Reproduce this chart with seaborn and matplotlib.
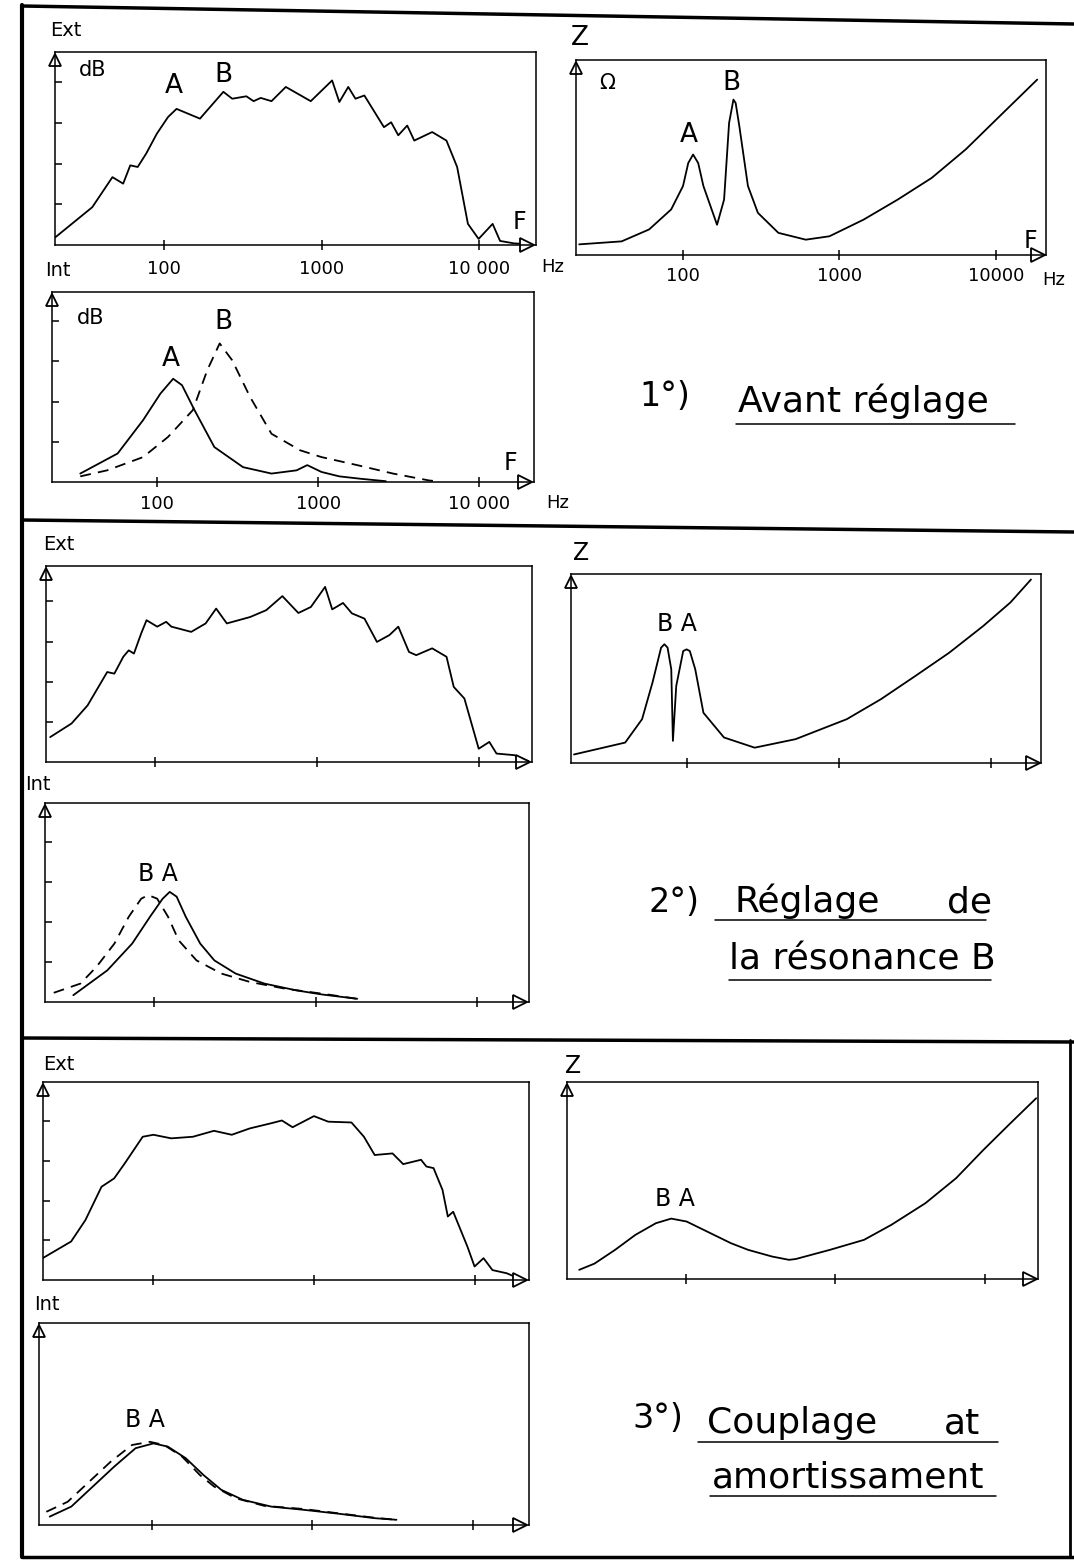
import matplotlib
matplotlib.use("Agg")
import matplotlib.pyplot as plt
import seaborn as sns
import pandas as pd
from matplotlib.lines import Line2D
from matplotlib.ticker import NullLocator, FixedLocator

# ---------------- data (frequency in Hz, level in arbitrary units) ----------------
x_ticks = [100, 1000, 10000]
labels_ext1 = ["100", "1000", "10 000"]
labels_z1 = ["100", "1000", "10000"]
labels_int1 = ["100", "1000", "10 000"]
y_ticks = [1, 2, 3, 4]

# Section 1 : Avant réglage
ext1_hz = [20.4, 35, 47, 55, 61, 68, 77, 90, 106, 120, 169, 238, 271, 333, 370, 411, 481, 593,
           854, 1167, 1297, 1478, 1642, 1870, 2490, 2767, 3070, 3500, 3880, 5040, 6210, 7260,
           8500, 9940, 12200, 13600, 16700, 20600]
ext1_lvl = [0.19, 0.93, 1.67, 1.51, 1.96, 1.92, 2.25, 2.74, 3.15, 3.35, 3.11, 3.77, 3.60, 3.66, 3.54,
            3.62, 3.54, 3.89, 3.54, 4.05, 3.52, 3.89, 3.60, 3.68, 2.90, 3.02, 2.70, 2.94, 2.57,
            2.78, 2.57, 1.92, 0.52, 0.15, 0.52, 0.10, 0.04, 0.02]

z1_hz = [21.7, 40.5, 60.7, 84, 100, 108, 116, 125, 135, 165, 183, 197, 210, 217, 229, 260, 301,
         407, 609, 863, 1425, 2353, 3884, 6412, 10570, 18370]
z1_lvl = [0.25, 0.32, 0.60, 1.07, 1.62, 2.16, 2.36, 2.16, 1.62, 0.71, 1.30, 3.10, 3.65, 3.57,
          3.03, 1.62, 0.99, 0.52, 0.36, 0.44, 0.83, 1.30, 1.81, 2.48, 3.26, 4.12]

int1_a_hz = [33.4, 57, 82, 105, 126, 143, 171, 227, 342, 514, 735, 857, 1050, 1356, 1841, 2634]
int1_a_lvl = [0.21, 0.71, 1.54, 2.20, 2.57, 2.41, 1.79, 0.87, 0.37, 0.21, 0.29, 0.42, 0.25,
              0.14, 0.08, 0.02]
int1_b_hz = [33.4, 49, 82, 117, 167, 205, 245, 293, 378, 514, 773, 1050, 1750, 2920, 4860, 5660]
int1_b_lvl = [0.14, 0.29, 0.62, 1.12, 1.79, 2.78, 3.45, 3.03, 2.12, 1.20, 0.79, 0.62, 0.42,
              0.21, 0.04, 0.01]

# Section 2 : Réglage de la résonance B
ext2_hz = [22.5, 30.5, 38.3, 50.6, 56, 63.6, 68.7, 74, 82, 88.5, 103, 117, 126, 167, 205, 238,
           277, 386, 485, 610, 766, 915, 1120, 1239, 1445, 1640, 1960, 2340, 2794, 3170, 3690,
           4090, 5130, 6290, 6970, 8110, 9940, 11560, 12800, 16500, 20200]
ext2_lvl = [0.62, 0.96, 1.41, 2.24, 2.20, 2.62, 2.78, 2.70, 3.20, 3.53, 3.37, 3.49, 3.37, 3.24,
            3.45, 3.82, 3.45, 3.61, 3.78, 4.13, 3.71, 3.86, 4.36, 3.80, 3.96, 3.70, 3.57, 2.99,
            3.16, 3.37, 2.74, 2.66, 2.83, 2.62, 1.87, 1.58, 0.33, 0.50, 0.21, 0.17, 0.02]

z2_hz = [18.2, 39.5, 51, 59.7, 68, 71.5, 75, 79.3, 81.3, 85.5, 95, 100, 105, 114, 129, 176, 280,
         520, 1129, 1893, 3170, 5310, 8900, 13400, 18300]
z2_lvl = [0.20, 0.48, 1.03, 1.89, 2.71, 2.79, 2.71, 2.20, 0.52, 1.81, 2.63, 2.67, 2.63, 2.20,
          1.18, 0.60, 0.36, 0.56, 1.03, 1.50, 2.04, 2.59, 3.22, 3.77, 4.31]

int2_a_hz = [31.6, 51.3, 73.2, 94.4, 113, 125, 138, 157, 193, 236, 320, 482, 762, 1088, 1812]
int2_a_lvl = [0.17, 0.79, 1.46, 2.13, 2.58, 2.75, 2.63, 2.13, 1.46, 1.04, 0.71, 0.46, 0.29,
              0.19, 0.08]
int2_b_hz = [23.9, 35, 44, 56.8, 69.7, 83.2, 92, 104.5, 122, 142, 183, 261, 393, 653, 1088, 1812]
int2_b_lvl = [0.23, 0.46, 0.88, 1.46, 2.13, 2.58, 2.67, 2.58, 2.13, 1.54, 1.04, 0.71, 0.50,
              0.33, 0.21, 0.08]

# Section 3 : Couplage et amortissement
ext3_hz = [20.5, 30.8, 37.8, 47.6, 57, 66.4, 85.8, 100, 129, 176, 238, 307, 397, 539, 629, 733,
           995, 1221, 1702, 2035, 2373, 3064, 3570, 4605, 4975, 5510, 6265, 6760, 7300, 8950,
           9910, 11270, 12800, 15700, 19200]
ext3_lvl = [0.55, 0.97, 1.51, 2.35, 2.56, 2.94, 3.61, 3.66, 3.57, 3.61, 3.76, 3.66, 3.82, 3.95,
            4.02, 3.85, 4.13, 3.99, 3.97, 3.61, 3.15, 3.19, 2.92, 3.03, 2.86, 2.82, 2.27, 1.60,
            1.72, 0.84, 0.34, 0.55, 0.25, 0.17, 0.02]

z3_hz = [19.2, 24.3, 33.4, 45.7, 62.7, 79.4, 100.7, 145.5, 199.5, 260, 376, 489, 543, 919, 1556,
         2371, 4012, 6440, 9820, 14900, 22170]
z3_lvl = [0.22, 0.37, 0.70, 1.06, 1.34, 1.45, 1.38, 1.10, 0.86, 0.70, 0.54, 0.46, 0.48, 0.70,
          0.94, 1.30, 1.82, 2.42, 3.10, 3.74, 4.34]

int3_a_hz = [23.2, 31.6, 43, 58.5, 79.4, 102.6, 126, 163, 210, 271, 369, 555, 882, 1471, 2455, 3337]
int3_a_lvl = [0.21, 0.46, 0.96, 1.46, 1.92, 2.04, 1.96, 1.67, 1.25, 0.88, 0.63, 0.46, 0.38,
              0.28, 0.17, 0.13]
int3_b_hz = [22.1, 30.0, 40.8, 55.5, 75.4, 97.5, 119.7, 154.6, 199.5, 245, 333, 501, 882, 1471,
             2455, 3337]
int3_b_lvl = [0.33, 0.58, 1.08, 1.58, 2.00, 2.08, 2.00, 1.71, 1.25, 0.96, 0.67, 0.48, 0.40,
              0.29, 0.18, 0.13]

# ---------------- figure ----------------
sns.set_theme(style="white")
plt.rcParams['font.family'] = ['DejaVu Sans']

W, H = 1074, 1562
fig = plt.figure(figsize=(W / 100, H / 100), dpi=100)
fig.patch.set_facecolor('white')


def add_px_axes(l, t, r, b):
    return fig.add_axes([l / W, 1 - b / H, (r - l) / W, (b - t) / H])


def ftext(x, y, s, size, ha='center', va='center'):
    fig.text(x / W, 1 - y / H, s, fontsize=size, ha=ha, va=va, color='black')


def fline(x1, y1, x2, y2, lw=1.2):
    fig.add_artist(Line2D([x1 / W, x2 / W], [1 - y1 / H, 1 - y2 / H],
                          transform=fig.transFigure, color='black', lw=lw))


def draw_curve(ax, hz, lvl, dashed=False):
    df = pd.DataFrame({'hz': hz, 'lvl': lvl})
    kw = dict(linestyle=(0, (6, 4))) if dashed else {}
    sns.lineplot(data=df, x='hz', y='lvl', ax=ax, color='black', lw=1.3,
                 sort=False, estimator=None, **kw)


def style_panel(ax, xlim, ylim, yticks=None, xlabels=None, pad=6):
    ax.set_xscale('log')
    ax.set_xlim(*xlim)
    ax.set_ylim(*ylim)
    ax.xaxis.set_major_locator(FixedLocator(x_ticks))
    ax.xaxis.set_minor_locator(NullLocator())
    ax.set_yticks(yticks if yticks else [])
    ax.set_yticklabels([])
    ax.set_xlabel('')
    ax.set_ylabel('')
    if xlabels:
        ax.set_xticklabels(xlabels)
    else:
        ax.set_xticklabels([])
    ax.tick_params(axis='x', which='major', direction='inout', length=7, width=1.1,
                   labelsize=13, pad=pad, colors='black', bottom=True)
    ax.tick_params(axis='y', which='major', direction='in', length=5, width=1.1,
                   colors='black', left=True)
    for sp in ax.spines.values():
        sp.set_visible(True)
        sp.set_color('black')
        sp.set_linewidth(1.1)
    ax.set_facecolor('white')
    ax.plot([0], [0.96], marker='^', ms=9, mfc='white', mec='black', mew=1.3,
            transform=ax.transAxes, clip_on=False)
    ax.plot([0.982], [0], marker='>', ms=10, mfc='white', mec='black', mew=1.3,
            transform=ax.transAxes, clip_on=False)
    leg = ax.get_legend()
    if leg:
        leg.remove()


# ----- Section 1 -----
ax = add_px_axes(55, 52, 536, 245)
draw_curve(ax, ext1_hz, ext1_lvl)
style_panel(ax, (20.3, 23000), (0, 4.75), y_ticks, labels_ext1, pad=7)

ax = add_px_axes(576, 60, 1046, 255)
draw_curve(ax, z1_hz, z1_lvl)
style_panel(ax, (20.7, 20900), (0, 4.58), None, labels_z1, pad=5)

ax = add_px_axes(52, 292, 534, 482)
draw_curve(ax, int1_a_hz, int1_a_lvl)
draw_curve(ax, int1_b_hz, int1_b_lvl, dashed=True)
style_panel(ax, (22.3, 21900), (0, 4.73), y_ticks, labels_int1, pad=6)

# ----- Section 2 -----
ax = add_px_axes(46, 566, 532, 762)
draw_curve(ax, ext2_hz, ext2_lvl)
style_panel(ax, (21.2, 21200), (0, 4.88), y_ticks)

ax = add_px_axes(571, 574, 1041, 763)
draw_curve(ax, z2_hz, z2_lvl)
style_panel(ax, (17.4, 21300), (0, 4.44))

ax = add_px_axes(45, 803, 529, 1002)
draw_curve(ax, int2_a_hz, int2_a_lvl)
draw_curve(ax, int2_b_hz, int2_b_lvl, dashed=True)
style_panel(ax, (21.1, 21000), (0, 4.97), y_ticks)

# ----- Section 3 -----
ax = add_px_axes(43, 1082, 529, 1280)
draw_curve(ax, ext3_hz, ext3_lvl)
style_panel(ax, (20.6, 21600), (0, 4.99), y_ticks)

ax = add_px_axes(567, 1082, 1038, 1279)
draw_curve(ax, z3_hz, z3_lvl)
style_panel(ax, (15.9, 22800), (0, 4.73))

ax = add_px_axes(39, 1323, 529, 1525)
draw_curve(ax, int3_a_hz, int3_a_lvl)
draw_curve(ax, int3_b_hz, int3_b_lvl, dashed=True)
style_panel(ax, (19.9, 22300), (0, 5.05))

# ---------------- hand-written labels ----------------
# section 1
ftext(66, 30, "Ext", 14)
ftext(93, 70, "dB", 15)
ftext(174, 86, "A", 19)
ftext(223, 75, "B", 19)
ftext(519, 222, "F", 17)
ftext(553, 267, "Hz", 13)
ftext(58, 270, "Int", 14)
ftext(580, 38, "Z", 19)
ftext(607, 83, "Ω", 15)
ftext(689, 135, "A", 19)
ftext(731, 83, "B", 19)
ftext(1030, 241, "F", 17)
ftext(1054, 280, "Hz", 13)
ftext(91, 318, "dB", 15)
ftext(171, 359, "A", 19)
ftext(223, 322, "B", 19)
ftext(510, 463, "F", 17)
ftext(558, 503, "Hz", 13)

ftext(665, 397, "1°)", 24)
ftext(738, 412, "Avant réglage", 26, ha='left', va='baseline')
fline(736, 424, 1015, 424, lw=1.1)

# section 2
ftext(59, 545, "Ext", 14)
ftext(581, 553, "Z", 17)
ftext(677, 624, "B A", 17)
ftext(38, 785, "Int", 14)
ftext(158, 874, "B A", 17)

ftext(674, 903, "2°)", 24)
ftext(734, 912, "Réglage", 26, ha='left', va='baseline')
ftext(947, 912, "de", 26, ha='left', va='baseline')
fline(715, 920, 986, 920, lw=1.1)
ftext(729, 970, "la résonance B", 26, ha='left', va='baseline')
fline(729, 980, 991, 980, lw=1.1)

# section 3
ftext(59, 1064, "Ext", 14)
ftext(573, 1066, "Z", 17)
ftext(675, 1199, "B A", 17)
ftext(47, 1305, "Int", 14)
ftext(145, 1420, "B A", 17)

ftext(658, 1418, "3°)", 24)
ftext(707, 1433, "Couplage", 26, ha='left', va='baseline')
ftext(944, 1433, "at", 26, ha='left', va='baseline')
fline(698, 1442, 998, 1442, lw=1.1)
ftext(712, 1487, "amortissament", 26, ha='left', va='baseline')
fline(710, 1496, 996, 1496, lw=1.1)

# ---------------- page frame ----------------
fline(22, 5, 22, 1557, lw=3)
fline(22, 6, 1074, 24, lw=2.5)
fline(22, 520, 1074, 532, lw=2.5)
fline(22, 1038, 1074, 1042, lw=2.5)
fline(22, 1557, 1074, 1557, lw=2.5)
fline(1070, 1040, 1070, 1557, lw=2)

fig.savefig("out.png", dpi=100, facecolor='white')
